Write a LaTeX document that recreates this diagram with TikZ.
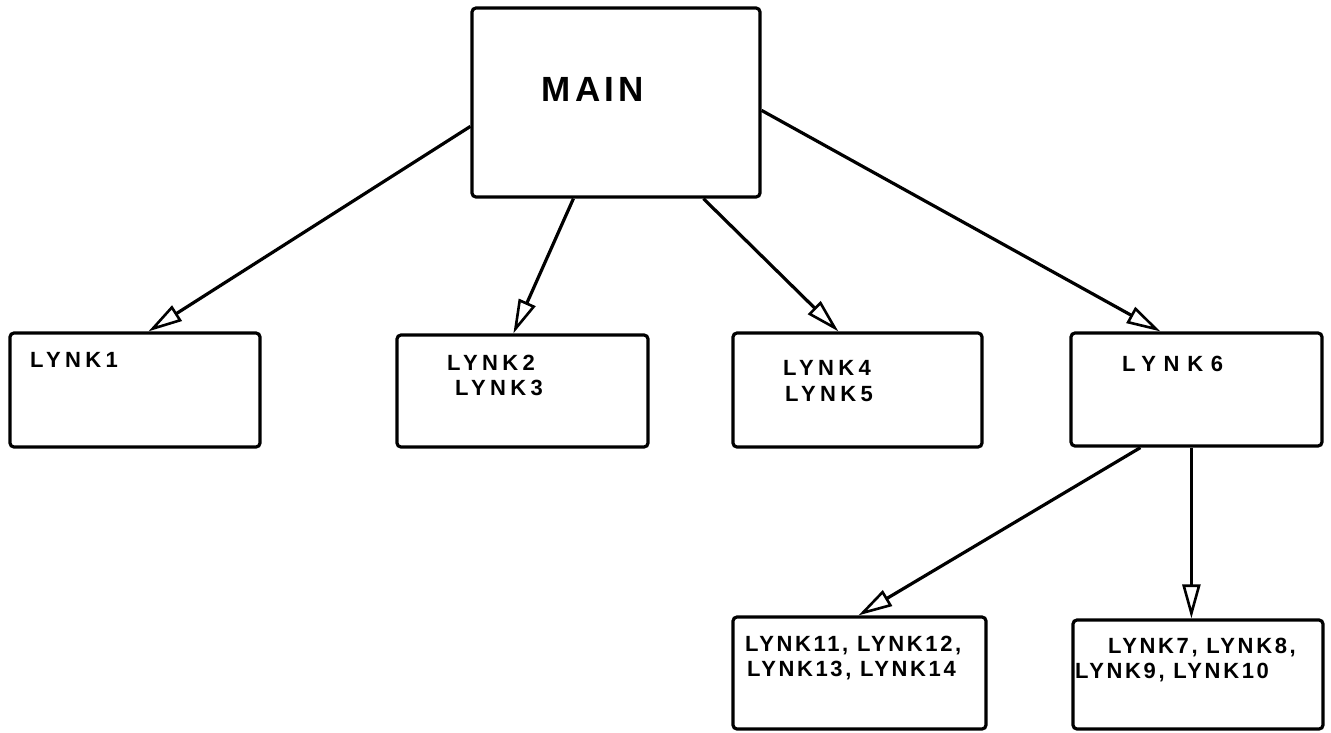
\documentclass[tikz,border=0pt]{standalone}
\usepackage{fontspec}
\setmainfont{Liberation Sans}[LetterSpace=12]
\usetikzlibrary{arrows.meta,calc}
\begin{document}
\begin{tikzpicture}[x=1pt,y=-1pt,
  box/.style={draw, line width=3.2pt, rounded corners=4pt, inner sep=0pt},
  lbl/.style={inner sep=0pt, anchor=west, text height=16pt, text depth=0pt,
              font=\fontsize{22}{22}\selectfont\bfseries},
  link/.style={line width=3.2pt,
               -{Triangle[open, length=34pt, width=18pt, line width=2.6pt]}}]
  \useasboundingbox (0,0) rectangle (1331,732);

  % boxes
  \node[box, minimum width=288pt, minimum height=189pt] (main)   at (616,102.5) {};
  \node[box, minimum width=250pt, minimum height=114pt] (lynk1)  at (135,390) {};
  \node[box, minimum width=251pt, minimum height=112pt] (lynk2)  at (522.5,391) {};
  \node[box, minimum width=249pt, minimum height=114pt] (lynk4)  at (857.5,390) {};
  \node[box, minimum width=251pt, minimum height=113pt] (lynk6)  at (1196.5,389.5) {};
  \node[box, minimum width=253pt, minimum height=112pt] (lynk11) at (859.5,673) {};
  \node[box, minimum width=250pt, minimum height=109pt] (lynk7)  at (1198,674.5) {};

  % labels
  \node[inner sep=0pt, text height=25pt, text depth=0pt,
        font=\fontsize{35}{35}\selectfont\bfseries] (tmain) at (593,89) {MAIN};
  \node[lbl, font=\fontsize{22}{22}\selectfont\bfseries\addfontfeature{LetterSpace=20}] (t1) at (30,359) {LYNK1};
  \node[lbl, font=\fontsize{22}{22}\selectfont\bfseries\addfontfeature{LetterSpace=20}] (t2) at (447,362) {LYNK2};
  \node[lbl, font=\fontsize{22}{22}\selectfont\bfseries\addfontfeature{LetterSpace=20}] (t3) at (455,387) {LYNK3};
  \node[lbl, font=\fontsize{22}{22}\selectfont\bfseries\addfontfeature{LetterSpace=20}] (t4) at (783,367) {LYNK4};
  \node[lbl, font=\fontsize{22}{22}\selectfont\bfseries\addfontfeature{LetterSpace=20}] (t5) at (785,393) {LYNK5};
  \node[lbl, font=\fontsize{22}{22}\selectfont\bfseries\addfontfeature{LetterSpace=35}] (t6) at (1122,363) {LYNK6};
  \node[lbl] (t11) at (745,643)  {LYNK11, LYNK12,};
  \node[lbl] (t13) at (747,668)  {LYNK13, LYNK14};
  \node[lbl] (t7)  at (1108,645) {LYNK7, LYNK8,};
  \node[lbl] (t9)  at (1075,670) {LYNK9, LYNK10};

  % connectors
  \draw[link] ($(main.north west)+(0,120)$)  -- ($(lynk1.north west)+(140,0)$);
  \draw[link] ($(main.south west)+(103,0)$)  -- ($(lynk2.north west)+(118,0)$);
  \draw[link] ($(main.south west)+(233,0)$)  -- ($(lynk4.north west)+(107,0)$);
  \draw[link] ($(main.north east)+(0,104)$)  -- ($(lynk6.north west)+(91,0)$);
  \draw[link] ($(lynk6.south west)+(71,0)$)  -- ($(lynk11.north west)+(127,0)$);
  \draw[link] ($(lynk6.south west)+(122,0)$) -- ($(lynk7.north west)+(120,0)$);
\end{tikzpicture}
\end{document}
